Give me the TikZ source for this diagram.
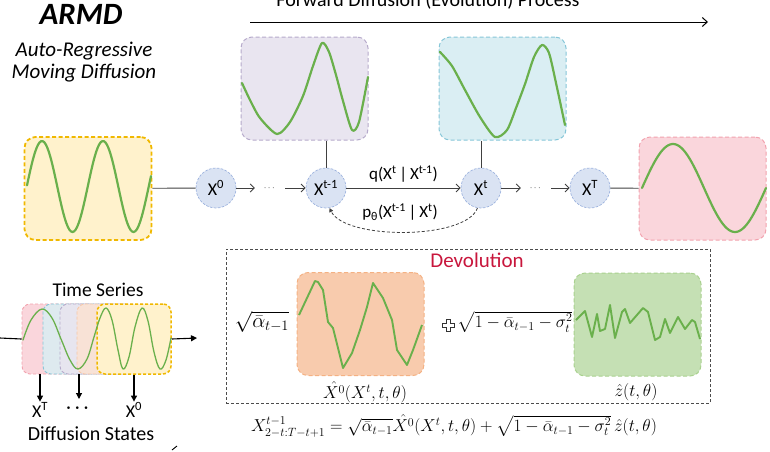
\documentclass[tikz,border=0pt]{standalone}
\usepackage{amsmath}
\usepackage{fontspec}
\setmainfont{Carlito}
\usetikzlibrary{arrows.meta}
\definecolor{yfill}{HTML}{FFF2CC}
\definecolor{ydraw}{HTML}{F0B800}
\definecolor{pufill}{HTML}{E9E5F0}
\definecolor{pudraw}{HTML}{B6AACB}
\definecolor{bfill}{HTML}{DAEEF3}
\definecolor{bdraw}{HTML}{86C6D8}
\definecolor{pifill}{HTML}{FAD6DC}
\definecolor{pidraw}{HTML}{F2A2AE}
\definecolor{ofill}{HTML}{F8CBAD}
\definecolor{odraw}{HTML}{F4B183}
\definecolor{gfill}{HTML}{C5E0B4}
\definecolor{gdraw}{HTML}{A9D18E}
\definecolor{cfill}{HTML}{DAE3F3}
\definecolor{cdraw}{HTML}{9DB3DE}
\definecolor{wavegreen}{HTML}{6AB04C}
\definecolor{devored}{HTML}{C8163C}
\tikzset{
  conn/.style={draw=black!75, line width=0.9pt},
  arr/.style={conn, -{Straight Barb[length=4pt,width=8pt]}},
  downarr/.style={draw=black, line width=1.1pt, -{Triangle[length=6pt,width=6pt]}},
  circ/.style={circle, fill=cfill, draw=cdraw, dash pattern=on 2.5pt off 1.5pt, line width=0.7pt, minimum size=40pt, inner sep=0pt, font=\fontsize{18}{20}\selectfont},
  bigbox/.style={rounded corners=11pt, dash pattern=on 4pt off 2.5pt, line width=1pt, minimum width=127pt, minimum height=103pt, inner sep=0pt},
  wave/.style={draw=wavegreen, line width=2.2pt, line join=round, line cap=round},
  tsbox/.style={rounded corners=8pt, dash pattern=on 3pt off 2pt, line width=0.9pt, minimum width=74pt, minimum height=70pt, inner sep=0pt},
  dotsnode/.style={inner sep=0pt, minimum width=30pt, font=\fontsize{9}{9}\selectfont},
  txt/.style={inner sep=1pt, font=\fontsize{#1}{#1}\selectfont},
}
\begin{document}
\begin{tikzpicture}[x=1pt, y=-1pt]
\useasboundingbox (0,0) rectangle (770,451);

% titles
\node[txt=31] (armd) at (81,14) {\bfseries\itshape ARMD};
\node[txt=21, align=center] (armdsub) at (84,62) {\itshape Auto-Regressive\\[1pt]\itshape Moving Diffusion};
\node[txt=20] (fwd) at (428,1) {Forward Diffusion (Evolution) Process};
\coordinate (fwdA) at (250,22);
\coordinate (fwdB) at (708,22);
\draw[draw=black, line width=1pt, -{Straight Barb[length=5pt,width=9pt]}] (fwdA) -- (fwdB);

% big boxes
\node[bigbox, fill=pufill, draw=pudraw] (pubox) at (304.5,88.5) {};
\node[bigbox, fill=bfill, draw=bdraw] (bbox) at (502.5,88.5) {};
\node[bigbox, fill=yfill, draw=ydraw, line width=1.8pt] (ybox) at (88,188.5) {};
\node[bigbox, fill=pifill, draw=pidraw] (pibox) at (702.5,188.5) {};

% waves in big boxes
\draw[wave] plot[domain=27:151, samples=80] (\x, {186.5 - 45.5*cos((\x-42)/61*360)});
\draw[wave] plot[domain=642:766, samples=80] (\x, {188 - 44*sin((\x-642)/124*360)});
\draw[wave] plot[smooth, tension=0.45] coordinates {(242,83) (250,100) (260,118) (277,134) (290,122) (303,96) (313,66) (322,43) (329,52) (336,75) (343,101) (352,130) (359,122) (368,77)};
\draw[wave] plot[smooth, tension=0.45] coordinates {(440,52) (452,66) (465,90) (480,117) (495,137) (507,130) (516,108) (525,84) (534,57) (542,45) (549,53) (556,83) (565,125)};

% circles
\node[circ] (x0) at (216,188) {X\textsuperscript{0}};
\node[circ] (xtm) at (326,188) {X\textsuperscript{t-1}};
\node[circ] (xt) at (481,188) {X\textsuperscript{t}};
\node[circ] (xT) at (590,188) {X\textsuperscript{T}};
\node[dotsnode] (d1) at (270,188) {$\cdots$};
\node[dotsnode] (d2) at (536,188) {$\cdots$};

\draw[conn] (ybox) -- (x0);
\draw[arr] (x0) -- (d1);
\draw[arr] (d1) -- (xtm);
\draw[arr] (xtm) -- (xt) node[midway, above=4pt, txt=17] (qlab) {q(X\textsuperscript{t}\,|\,X\textsuperscript{t-1})};
\draw[arr] (xt) -- (d2);
\draw[arr] (d2) -- (xT);
\draw[conn] (xT) -- (pibox);
\draw[conn] (xtm |- pubox.south) -- (xtm);
\draw[conn] (xt |- bbox.south) -- (xt);
\draw[draw=black!75, line width=0.8pt, dash pattern=on 3pt off 2pt, -{Triangle[length=4pt,width=4pt]}]
  (xt.-100) .. controls (466,240) and (345,240) .. (xtm.-80);
\node[txt=17] (plab) at (400,212) {p\textsubscript{θ}(X\textsuperscript{t-1}\,|\,X\textsuperscript{t})};

% devolution frame
\node[draw=black!70, dash pattern=on 3pt off 2pt, line width=1pt, minimum width=484pt, minimum height=154pt, inner sep=0pt] (devo) at (468,326) {};
\node[txt=21, text=devored] (devlab) at (477,260) {Devolution};
\node[bigbox, fill=ofill, draw=odraw] (obox) at (360.5,324) {};
\node[bigbox, fill=gfill, draw=gdraw] (gbox) at (637.5,324.5) {};
\draw[wave, line width=1.9pt, line cap=butt] plot coordinates {(299,315) (315,281) (318,282) (323,290) (328,322) (333,328) (343,368) (352,353) (360,330) (367,307) (373,283) (383,298) (392,320) (397,350) (407,365) (413,350) (422,325)};
\draw[wave, line width=1.9pt, line cap=butt] plot coordinates {(576,320) (585,311) (592,337) (597,314) (600,331) (605,329) (610,305) (615,338) (622,312) (625,309) (630,323) (643,308) (648,312) (655,340) (660,337) (665,319) (670,333) (678,317) (685,329) (692,320) (695,322) (700,339)};
\node[txt=20] (sqa) at (262,322) {$\sqrt{\bar\alpha_{t-1}}$};
\node[txt=17] (sqb) at (515,322) {$\sqrt{1-\bar\alpha_{t-1}-\sigma_t^2}$};
\draw[draw=black!80, line width=0.9pt, fill=white] (446,319) -- (450,319) -- (450,323) -- (454,323) -- (454,327) -- (450,327) -- (450,331) -- (446,331) -- (446,327) -- (442,327) -- (442,323) -- (446,323) -- cycle;
\node[txt=17] (xhat) at (365,392) {$\hat{X^0}(X^t,t,\theta)$};
\node[txt=17] (zhat) at (636,392) {$\hat z(t,\theta)$};
\node[txt=16.5] (eq) at (454,426) {$X^{t-1}_{2-t:T-t+1}=\sqrt{\bar\alpha_{t-1}}\hat{X^0}(X^t,t,\theta)+\sqrt{1-\bar\alpha_{t-1}-\sigma_t^2}\,\hat z(t,\theta)$};

% time series
\node[txt=19.5] (tslab) at (98,290) {Time Series};
\node[tsbox, fill=pifill, draw=pidraw] (tspi) at (59,339) {};
\node[tsbox, fill=bfill, draw=bdraw, fill opacity=0.85] (tsb) at (80,339) {};
\node[tsbox, fill=pufill, draw=pudraw, fill opacity=0.85] (tspu) at (97,339) {};
\node[tsbox, fill=ofill!55, draw=odraw!70, fill opacity=0.85] (tso) at (114,339) {};
\node[tsbox, fill=yfill, draw=ydraw, line width=1.5pt] (tsy) at (134,339) {};
\draw[wave, line width=1.3pt] plot[smooth, tension=0.6] coordinates {(23,340) (31,320) (42,309) (52,318) (61,339) (70,360) (78,369) (87,359) (94,337) (100,318) (106,308) (112,320) (118,350) (123,369) (129,357) (135,327) (142,308) (148,321) (154,352) (160,369) (166,360) (171,338)};
\coordinate (tsleft) at (0,338);
\coordinate (tsright) at (197,338);
\draw[draw=black, line width=1.1pt] (tsleft) -- (tspi.west);
\draw[draw=black, line width=1.1pt, -{Triangle[length=6pt,width=6pt]}] (tsy.east) -- (tsright);
\node[txt=18] (lT) at (40,410) {X\textsuperscript{T}};
\node[txt=18] (ld) at (79,408) {$\boldsymbol\cdots$};
\node[txt=18] (l0) at (134,410) {X\textsuperscript{0}};
\draw[downarr] (lT |- tspi.south) -- (lT.north);
\draw[downarr] (ld |- tspu.south) -- (79,399);
\draw[downarr] (l0 |- tsy.south) -- (l0.north);
\node[txt=20] (dslab) at (91,434) {Diffusion States};
\coordinate (tickA) at (172,450);
\coordinate (tickB) at (177,446);
\draw[draw=black, line width=0.9pt] (tickA) -- (tickB);
\end{tikzpicture}
\end{document}
